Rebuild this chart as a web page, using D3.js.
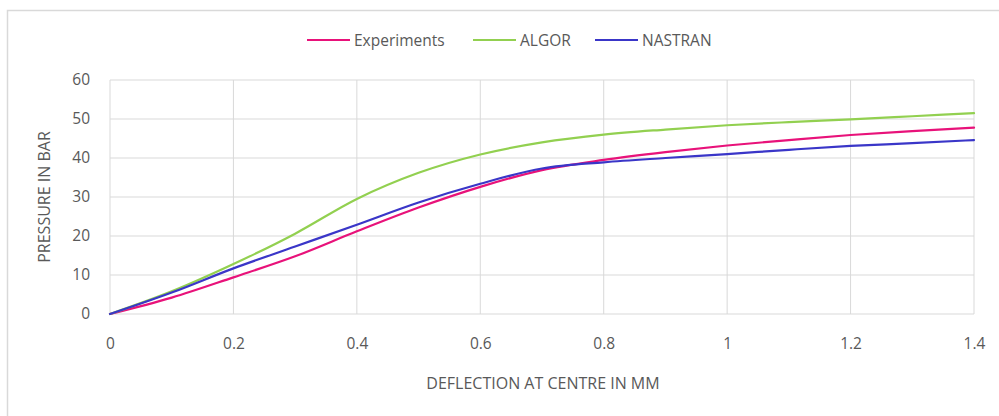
<!DOCTYPE html>
<html>
<head>
<meta charset="utf-8">
<script src="https://cdn.jsdelivr.net/npm/d3@7"></script>
<style>
  body { margin: 0; background: #fff; }
  svg { display: block; }
</style>
</head>
<body>
<script>
// deflection values (mm)
var deflection = [0, 0.1, 0.2, 0.3, 0.4, 0.5, 0.6, 0.7, 0.8, 0.9, 1.0, 1.1, 1.2, 1.3, 1.4];
// pressure (bar) for each series
var experiments = [0, 4.2, 9.4, 14.8, 21.2, 27.3, 32.6, 36.9, 39.5, 41.5, 43.2, 44.6, 45.9, 46.9, 47.8];
var algor = [0, 5.8, 12.8, 20.6, 29.5, 36.2, 40.9, 44.0, 46.0, 47.3, 48.4, 49.2, 49.9, 50.7, 51.5];
var nastran = [0, 5.5, 11.7, 17.3, 22.9, 28.6, 33.4, 37.3, 38.9, 40.0, 41.0, 42.1, 43.1, 43.8, 44.6];
var xTicks = [0, 0.2, 0.4, 0.6, 0.8, 1, 1.2, 1.4];
var yTicks = [0, 10, 20, 30, 40, 50, 60];

var series = [
  {name: "Experiments", values: experiments, color: "#e8127a"},
  {name: "ALGOR", values: algor, color: "#92d050"},
  {name: "NASTRAN", values: nastran, color: "#3a36c8"}
];

var W = 999, H = 416;
var svg = d3.select("body").append("svg").attr("width", W).attr("height", H);
var font = "'Open Sans', 'Liberation Sans', sans-serif";
var textColor = "#595959";
var fs = 15.5;

// chart border
svg.append("rect")
  .attr("x", 7.5).attr("y", 10.5)
  .attr("width", W).attr("height", H)
  .attr("fill", "none").attr("stroke", "#d9d9d9").attr("stroke-width", 1.5);

var x = d3.scaleLinear().domain([0, 1.4]).range([110, 974]);
var y = d3.scaleLinear().domain([0, 60]).range([314, 80]);

// gridlines
svg.append("g").selectAll("line").data(yTicks).join("line")
  .attr("x1", x(0)).attr("x2", x(1.4))
  .attr("y1", function(d) { return y(d); }).attr("y2", function(d) { return y(d); })
  .attr("stroke", "#d9d9d9").attr("stroke-width", 1);
svg.append("g").selectAll("line").data(xTicks).join("line")
  .attr("x1", function(d) { return x(d); }).attr("x2", function(d) { return x(d); })
  .attr("y1", y(0)).attr("y2", y(60))
  .attr("stroke", "#d9d9d9").attr("stroke-width", 1);

// x axis labels
var xAxis = svg.append("g")
  .attr("transform", "translate(0," + (y(0) + 24) + ")")
  .call(d3.axisBottom(x).tickValues(xTicks).tickSize(0).tickPadding(0)
    .tickFormat(function(d) { return d3.format("")(d); }));
xAxis.select(".domain").remove();
xAxis.selectAll("text").attr("font-family", font).attr("font-size", fs).attr("fill", textColor);

// y axis labels
var yAxis = svg.append("g")
  .attr("transform", "translate(" + (x(0) - 20) + ",0)")
  .call(d3.axisLeft(y).tickValues(yTicks).tickSize(0).tickPadding(0));
yAxis.select(".domain").remove();
yAxis.selectAll("text").attr("font-family", font).attr("font-size", fs).attr("fill", textColor);

// axis titles
svg.append("text")
  .attr("x", 543).attr("y", 389)
  .attr("text-anchor", "middle")
  .attr("font-family", font).attr("font-size", 16).attr("fill", textColor)
  .text("DEFLECTION AT CENTRE IN MM");
svg.append("text")
  .attr("transform", "translate(50," + ((y(0) + y(60)) / 2) + ") rotate(-90)")
  .attr("text-anchor", "middle")
  .attr("font-family", font).attr("font-size", 16).attr("fill", textColor)
  .text("PRESSURE IN BAR");

// lines
var line = d3.line()
  .x(function(d, i) { return x(deflection[i]); })
  .y(function(d) { return y(d); })
  .curve(d3.curveMonotoneX);

svg.append("g").selectAll("path").data(series).join("path")
  .attr("d", function(s) { return line(s.values); })
  .attr("fill", "none")
  .attr("stroke", function(s) { return s.color; })
  .attr("stroke-width", 2.2)
  .attr("stroke-linecap", "round");

// legend
var legendX = [307, 473, 595];
var legend = svg.append("g").selectAll("g").data(series).join("g")
  .attr("transform", function(s, i) { return "translate(" + legendX[i] + ",40)"; });
legend.append("line")
  .attr("x1", 0).attr("x2", 43)
  .attr("stroke", function(s) { return s.color; })
  .attr("stroke-width", 2.2);
legend.append("text")
  .attr("x", 47).attr("y", 5.5)
  .attr("font-family", font).attr("font-size", fs).attr("fill", textColor)
  .text(function(s) { return s.name; });
</script>
</body>
</html>
